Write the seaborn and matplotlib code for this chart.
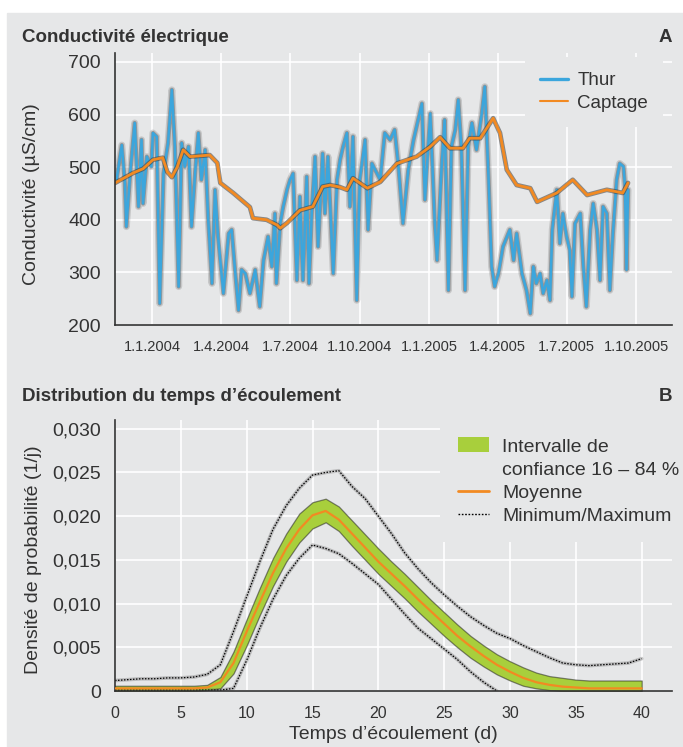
import matplotlib
matplotlib.use("Agg")
import matplotlib.pyplot as plt
from matplotlib.patches import Patch, Rectangle
from matplotlib.lines import Line2D
import seaborn as sns
import numpy as np
import pandas as pd

# A : conductivité, jours comptés depuis le 13.11.2003
start_date = "2003-11-13"
thur_days = [2, 9, 13, 15, 20, 26, 31, 35, 37, 42, 48, 50, 55, 59, 64, 70, 75, 79, 84, 88,
             92, 97, 101, 106, 110, 114, 119, 123, 128, 132, 136, 143, 150, 154, 158, 163, 167,
             172, 178, 185, 191, 196, 202, 207, 211, 213, 218, 222, 227, 231, 235, 240, 244, 248,
             253, 256, 260, 264, 268, 274, 277, 281, 288, 293, 297, 301, 306, 310, 314, 319, 323,
             330, 334, 339, 350, 356, 363, 369, 374, 380, 387, 394, 400, 405, 409, 416, 422, 425,
             431, 435, 440, 444, 449, 453, 457, 462, 466, 471, 477, 484, 488, 493, 497, 501, 506,
             512, 521, 526, 530, 537, 543, 548, 552, 556, 561, 565, 570, 574, 577, 583, 587, 591,
             596, 600, 603, 607, 614, 618, 622, 627, 631, 636, 640, 644, 649, 653, 657, 662, 666,
             671, 673, 675, 677]
thur_us = [476, 542, 470, 387, 488, 584, 425, 552, 431, 520, 501, 565, 558, 241, 488, 546, 647, 539, 273, 546,
           501, 539, 387, 495, 565, 476, 533, 400, 279, 457, 368, 260, 374, 381, 311, 228, 305,
           298, 260, 305, 235, 323, 368, 311, 412, 279, 393, 425, 457, 476, 488, 285, 444, 285,
           482, 279, 425, 520, 349, 526, 412, 520, 298, 476, 514, 539, 565, 425, 558, 247, 476,
           552, 381, 507, 476, 565, 552, 571, 501, 393, 495, 552, 590, 621, 438, 602, 393, 323,
           501, 590, 266, 539, 571, 628, 539, 266, 539, 584, 533, 602, 653, 476, 311, 273, 298,
           349, 381, 323, 374, 298, 266, 222, 311, 279, 298, 260, 285, 247, 381, 457, 355, 412,
           368, 342, 254, 393, 412, 311, 235, 381, 431, 381, 285, 425, 412, 266, 374, 476, 507,
           501, 463, 305, 457]
captage_days = [0, 24, 37, 50, 63, 69, 75, 82, 90, 99, 125, 135, 139, 156, 178, 182, 200, 214, 218,
                227, 244, 261, 274, 284, 297, 306, 314, 333, 350, 372, 398, 416, 429, 442, 459,
                468, 482, 499, 508, 517, 530, 548, 557, 583, 604, 623, 649, 670, 677]
captage_us = [470, 489, 497, 514, 518, 491, 481, 500, 533, 520, 523, 508, 470, 451, 424, 403, 400, 390, 384,
              394, 418, 425, 463, 466, 462, 457, 479, 460, 472, 507, 520, 539, 557, 536, 536,
              555, 555, 593, 565, 495, 466, 460, 434, 451, 476, 447, 457, 451, 470]
date_ticks = ["2004-01-01", "2004-04-01", "2004-07-01", "2004-10-01",
              "2005-01-01", "2005-04-01", "2005-07-01", "2005-10-01"]
date_labels = ["1.1.2004", "1.4.2004", "1.7.2004", "1.10.2004",
               "1.1.2005", "1.4.2005", "1.7.2005", "1.10.2005"]

# B : distribution du temps d'écoulement
temps = list(range(41))
moyenne = [0.0003, 0.0003, 0.0003, 0.0003, 0.0003, 0.0003, 0.0003, 0.0004, 0.0010, 0.0032,
           0.0068, 0.0102, 0.0135, 0.0163, 0.0185, 0.0201, 0.0206, 0.0196, 0.0180, 0.0164,
           0.0148, 0.0134, 0.0120, 0.0105, 0.0091, 0.0077, 0.0063, 0.0051, 0.0040, 0.0030,
           0.0022, 0.0015, 0.0010, 0.0007, 0.0005, 0.0004, 0.0003, 0.0003, 0.0003, 0.0003, 0.0003]
ic_haut = [0.0006, 0.0006, 0.0006, 0.0006, 0.0006, 0.0006, 0.0006, 0.0007, 0.0016, 0.0045,
           0.0082, 0.0118, 0.0152, 0.0180, 0.0203, 0.0216, 0.0220, 0.0211, 0.0195, 0.0179,
           0.0163, 0.0148, 0.0134, 0.0119, 0.0104, 0.0090, 0.0076, 0.0063, 0.0052, 0.0042,
           0.0034, 0.0027, 0.0021, 0.0017, 0.0015, 0.0013, 0.0012, 0.0012, 0.0012, 0.0012, 0.0012]
ic_bas = [0.0000, 0.0000, 0.0000, 0.0000, 0.0000, 0.0000, 0.0000, 0.0001, 0.0003, 0.0020,
          0.0052, 0.0087, 0.0120, 0.0148, 0.0170, 0.0186, 0.0193, 0.0183, 0.0166, 0.0150,
          0.0134, 0.0120, 0.0106, 0.0091, 0.0077, 0.0063, 0.0050, 0.0038, 0.0028, 0.0019,
          0.0012, 0.0006, 0.0003, 0.0001, 0.0000, 0.0000, 0.0000, 0.0000, 0.0000, 0.0000, 0.0000]
minimum = [0.0001, 0.0001, 0.0001, 0.0001, 0.0001, 0.0001, 0.0001, 0.0001, 0.0001, 0.0003,
           0.0035, 0.0072, 0.0105, 0.0132, 0.0152, 0.0167, 0.0163, 0.0157, 0.0146, 0.0134,
           0.0122, 0.0105, 0.0088, 0.0072, 0.0060, 0.0048, 0.0036, 0.0022, 0.0010, 0.0000,
           np.nan, np.nan, np.nan, np.nan, np.nan, np.nan, np.nan, np.nan, np.nan, np.nan, np.nan]
maximum = [0.0012, 0.0013, 0.0014, 0.0014, 0.0015, 0.0015, 0.0016, 0.0019, 0.0030, 0.0068,
           0.0108, 0.0148, 0.0185, 0.0212, 0.0232, 0.0247, 0.0250, 0.0252, 0.0234, 0.0220,
           0.0200, 0.0180, 0.0158, 0.0140, 0.0124, 0.0110, 0.0097, 0.0085, 0.0075, 0.0066,
           0.0060, 0.0052, 0.0045, 0.0038, 0.0032, 0.0030, 0.0029, 0.0030, 0.0031, 0.0032, 0.0037]
dens_ticks = [0, 0.005, 0.010, 0.015, 0.020, 0.025, 0.030]
dens_labels = ["0", "0,005", "0,010", "0,015", "0,020", "0,025", "0,030"]

fond = "#e6e7e8"
bleu = "#3ba6dd"
orange = "#f28a22"
vert = "#a8cf3c"
texte = "#333333"

sns.set_theme(style="darkgrid", rc={"axes.facecolor": fond, "grid.color": "white",
                                    "grid.linewidth": 1.2, "text.color": texte,
                                    "axes.labelcolor": texte, "xtick.color": texte,
                                    "ytick.color": texte})
plt.rcParams["font.family"] = ["Liberation Sans", "DejaVu Sans"]

fig = plt.figure(figsize=(6.83, 7.47), dpi=100, facecolor="white")
fig.patches.append(Rectangle((7 / 683, 0), 1, 1 - 13 / 747, transform=fig.transFigure,
                             color=fond, zorder=-10))

t0 = pd.Timestamp(start_date)
thur_dates = t0 + pd.to_timedelta(thur_days, unit="D")
captage_dates = t0 + pd.to_timedelta(captage_days, unit="D")

# Panneau A
ax = fig.add_axes([115 / 683, 1 - 325 / 747, 557 / 683, 272 / 747])
ax.set_facecolor(fond)
sns.lineplot(x=thur_dates, y=thur_us, ax=ax, color="#4a4a4a", lw=5, alpha=0.2)
sns.lineplot(x=thur_dates, y=thur_us, ax=ax, color="#3a3a3a", lw=3, alpha=0.35)
sns.lineplot(x=thur_dates, y=thur_us, ax=ax, color=bleu, lw=1.8)
sns.lineplot(x=captage_dates, y=captage_us, ax=ax, color="#3a3a3a", lw=3.4, alpha=0.55)
sns.lineplot(x=captage_dates, y=captage_us, ax=ax, color=orange, lw=2)
ax.set_xlim(t0, t0 + pd.Timedelta(days=735))
ax.set_ylim(200, 717)
ax.set_yticks([200, 300, 400, 500, 600, 700])
ax.set_xticks(pd.to_datetime(date_ticks))
ax.set_xticklabels(date_labels)
ax.set_xlabel("")
ax.tick_params(axis="y", length=0, pad=10, labelsize=14)
ax.tick_params(axis="x", length=0, pad=11, labelsize=10.5)
ax.set_ylabel("Conductivité (µS/cm)", fontsize=14)
ax.yaxis.set_label_coords(-0.134, 0.48)
leg_a = ax.legend(handles=[Line2D([], [], color=bleu, lw=2.4), Line2D([], [], color=orange, lw=1.5)],
                  labels=["Thur", "Captage"], loc="upper right", bbox_to_anchor=(0.984, 0.985),
                  borderaxespad=0, borderpad=0.8, handlelength=1.5, handletextpad=0.5,
                  labelspacing=0.3, fontsize=13.5, frameon=True, facecolor=fond,
                  edgecolor="none", framealpha=1, fancybox=False)

# Panneau B
bx = fig.add_axes([115 / 683, 1 - 691 / 747, 557 / 683, 271 / 747])
bx.set_facecolor(fond)
bx.fill_between(temps, ic_bas, ic_haut, facecolor=vert, edgecolor=(0.15, 0.15, 0.15, 0.55),
                lw=0.9, zorder=2)
sns.lineplot(x=temps, y=moyenne, ax=bx, color=orange, lw=1.6, zorder=3)
for serie in (maximum, minimum):
    sns.lineplot(x=temps, y=serie, ax=bx, color="#555555", lw=2.6, alpha=0.3, zorder=2)
    sns.lineplot(x=temps, y=serie, ax=bx, color="black", lw=0.9, ls=(0, (1.2, 1.2)), zorder=2)
bx.set_xlim(0, 42.3)
bx.set_ylim(0, 0.031)
bx.set_xticks([0, 5, 10, 15, 20, 25, 30, 35, 40])
bx.set_yticks(dens_ticks)
bx.set_yticklabels(dens_labels)
bx.tick_params(axis="y", length=0, pad=10, labelsize=14)
bx.tick_params(axis="x", length=0, pad=11, labelsize=11.5)
bx.set_ylabel("Densité de probabilité (1/j)", fontsize=14)
bx.yaxis.set_label_coords(-0.131, 0.483)
bx.set_xlabel("Temps d’écoulement (d)", fontsize=14, va="top")
bx.xaxis.set_label_coords(0.5, -0.13)
leg_b = bx.legend(handles=[Patch(facecolor=vert, edgecolor="none"),
                           Patch(facecolor="none", edgecolor="none"),
                           Line2D([], [], color=orange, lw=2),
                           Line2D([], [], color="black", lw=1, ls=(0, (1.2, 1.2)))],
                  labels=["Intervalle de", "confiance 16 – 84 %", "Moyenne", "Minimum/Maximum"],
                  loc="upper right", bbox_to_anchor=(1.045, 1), borderaxespad=0, borderpad=0.9,
                  handlelength=1.6, handleheight=0.8, handletextpad=0.7, labelspacing=0.25,
                  fontsize=14, frameon=True, facecolor=fond, edgecolor="none",
                  framealpha=1, fancybox=False)

for a in (ax, bx):
    for s in ("top", "right"):
        a.spines[s].set_visible(False)
    for s in ("left", "bottom"):
        a.spines[s].set_visible(True)
        a.spines[s].set_color(texte)
        a.spines[s].set_linewidth(1.2)

fig.text(22 / 683, 1 - 37 / 747, "Conductivité électrique", fontsize=13.5, fontweight="bold",
         va="center", ha="left")
fig.text(672 / 683, 1 - 37 / 747, "A", fontsize=13.5, fontweight="bold", va="center", ha="right")
fig.text(22 / 683, 1 - 397 / 747, "Distribution du temps d’écoulement", fontsize=13.5,
         fontweight="bold", va="center", ha="left")
fig.text(672 / 683, 1 - 397 / 747, "B", fontsize=13.5, fontweight="bold", va="center", ha="right")

fig.savefig("out.png", dpi=100, facecolor="white")
